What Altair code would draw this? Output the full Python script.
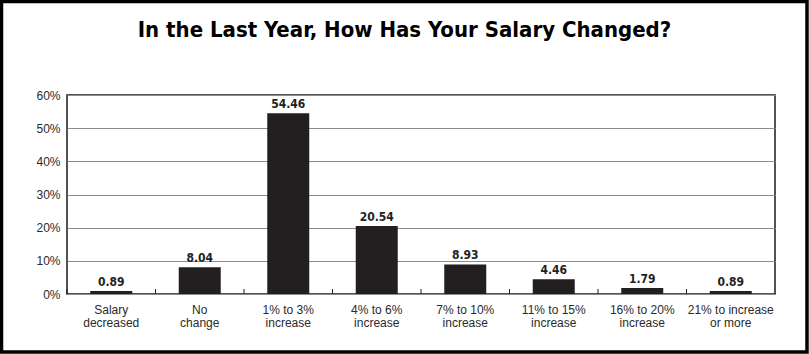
import altair as alt
import pandas as pd

categories = [
    "Salary|decreased", "No|change", "1% to 3%|increase", "4% to 6%|increase",
    "7% to 10%|increase", "11% to 15%|increase", "16% to 20%|increase",
    "21% to increase|or more",
]
values = [0.89, 8.04, 54.46, 20.54, 8.93, 4.46, 1.79, 0.89]
y_ticks = [0, 10, 20, 30, 40, 50, 60]
title_text = "In the Last Year, How Has Your Salary Changed?"

df = pd.DataFrame({"cat": categories, "val": values})

x_axis = alt.Axis(
    labelAngle=0, domain=False, ticks=False, labelPadding=10,
    labelExpr="split(datum.label, '|')", labelLineHeight=13,
    labelFont="Liberation Sans", labelFontSize=12, labelColor="#2a2a2a",
    labelBaseline="top",
)
x_scale = alt.Scale(paddingInner=0, paddingOuter=0)
x_enc = alt.X("cat:N", sort=None, title=None, scale=x_scale, axis=x_axis)
y_enc = alt.Y(
    "val:Q", title=None,
    scale=alt.Scale(domain=[0, 60], nice=False),
    axis=alt.Axis(
        values=y_ticks, labelExpr="datum.value + '%'", grid=True,
        gridColor="#8c8c8c", gridWidth=1, domain=False, ticks=False,
        labelPadding=7, labelFont="Liberation Sans", labelFontSize=12,
        labelColor="#2a2a2a", labelOverlap=False,
    ),
)

bars = alt.Chart(df).mark_bar(size=42, color="#231f20").encode(x=x_enc, y=y_enc)

labels = alt.Chart(df).mark_text(
    font="DejaVu Sans Condensed", fontWeight="bold", fontSize=12,
    baseline="alphabetic", dy=-5, color="#231f20",
).encode(x=x_enc, y=y_enc, text=alt.Text("val:Q", format=".2f"))

ticks = alt.Chart(df).mark_rule(color="#231f20", strokeWidth=1).encode(
    x=alt.X("cat:N", sort=None, bandPosition=0, scale=x_scale, axis=x_axis, title=None),
    y=alt.value(199), y2=alt.value(194),
)

title = alt.Chart(alt.Data(values=[{"t": title_text}])).mark_text(
    font="DejaVu Sans Condensed", fontWeight="bold", fontSize=22,
    align="center", baseline="alphabetic", color="black",
).encode(text="t:N", x=alt.value(337.5), y=alt.value(-58))

border = alt.Chart(alt.Data(values=[{"t": 1}])).mark_rect(
    filled=False, stroke="black", strokeWidth=3.5,
).encode(x=alt.value(-65.5), x2=alt.value(740), y=alt.value(-93.5), y2=alt.value(257))

chart = alt.layer(bars, labels, ticks, title, border, data=df).properties(
    width=708, height=199,
    autosize=alt.AutoSizeParams(type="none"),
    padding={"left": 67, "top": 95, "right": 34, "bottom": 60},
    background="white",
).configure_view(stroke="#1a1a1a", strokeWidth=1.5)

chart.save("out.html", embed_options={"renderer": "svg", "actions": False})
